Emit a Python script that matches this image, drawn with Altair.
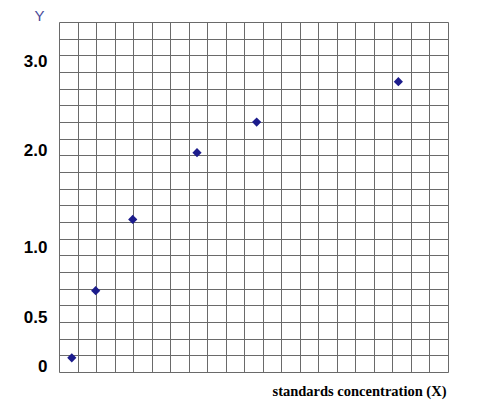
import altair as alt
import pandas as pd

# data
conc_x = [0.69, 1.98, 3.98, 7.45, 10.67, 18.32]      # grid units along x
absorb_y = [0.09, 0.69, 1.29, 1.98, 2.32, 2.77]       # in y-axis label units
y_ticks = [0, 0.5, 1.0, 2.0, 3.0]
grid_lines = list(range(0, 22))

pts = pd.DataFrame({"x": conc_x, "y": absorb_y})
grid_df = pd.DataFrame({"g": [0, 21]})

W, H = 389, 350
GRID = "#6a6a6a"

# piecewise y scale: label positions on the original drawing are not evenly spaced
y_scale = alt.Scale(
    domain=[-0.053, 0, 0.5, 1, 2, 3, 3.433],
    range=[H, 344.7, 295.2, 225.5, 128.8, 39, 0],
    nice=False, zero=False,
)

points = alt.Chart(pts).mark_point(
    shape="diamond", filled=True, size=85, color="#1c1c8c", opacity=1
).encode(
    x=alt.X("x:Q", scale=alt.Scale(domain=[0, 21], nice=False, zero=False),
            axis=alt.Axis(values=grid_lines, grid=True, gridColor=GRID, gridOpacity=1,
                          gridWidth=1, labels=False, ticks=False, domain=False,
                          title="standards concentration (X)",
                          titleFont="Liberation Serif", titleFontSize=14.5,
                          titleFontWeight="bold", titleColor="#000000",
                          titleAnchor="end", titleAlign="right",
                          titleBaseline="middle", titleX=W - 2, titleY=19)),
    y=alt.Y("y:Q", scale=y_scale,
            axis=alt.Axis(values=y_ticks, grid=False, ticks=False, tickSize=0, domain=False,
                          labelExpr="datum.value == 0 ? '0' : format(datum.value, '.1f')",
                          labelFont="Liberation Sans", labelFontSize=17,
                          labelFontWeight="bold", labelColor="#000000", labelPadding=12,
                          title="Y", titleAngle=0, titleFont="Liberation Sans",
                          titleFontSize=15, titleFontWeight="normal",
                          titleColor="#4a4a9a", titleAlign="center",
                          titleBaseline="middle", titleX=-20, titleY=-7)),
)

hgrid = alt.Chart(grid_df).mark_point(opacity=0).encode(
    x=alt.value(0),
    y=alt.Y("g:Q", scale=alt.Scale(domain=[0, 21], nice=False, zero=False),
            axis=alt.Axis(orient="right", values=grid_lines, grid=True, gridColor=GRID,
                          gridOpacity=1, gridWidth=1, labels=False, ticks=False,
                          domain=False, title=None)),
)

chart = alt.layer(hgrid, points).resolve_scale(y="independent").properties(
    width=W, height=H,
    autosize=alt.AutoSizeParams(type="none"),
    padding={"left": 51, "top": 14, "right": 28, "bottom": 28},
).configure_view(stroke=None).configure(background="#ffffff")

chart.save("out.html", embed_options={"renderer": "svg", "actions": False})
